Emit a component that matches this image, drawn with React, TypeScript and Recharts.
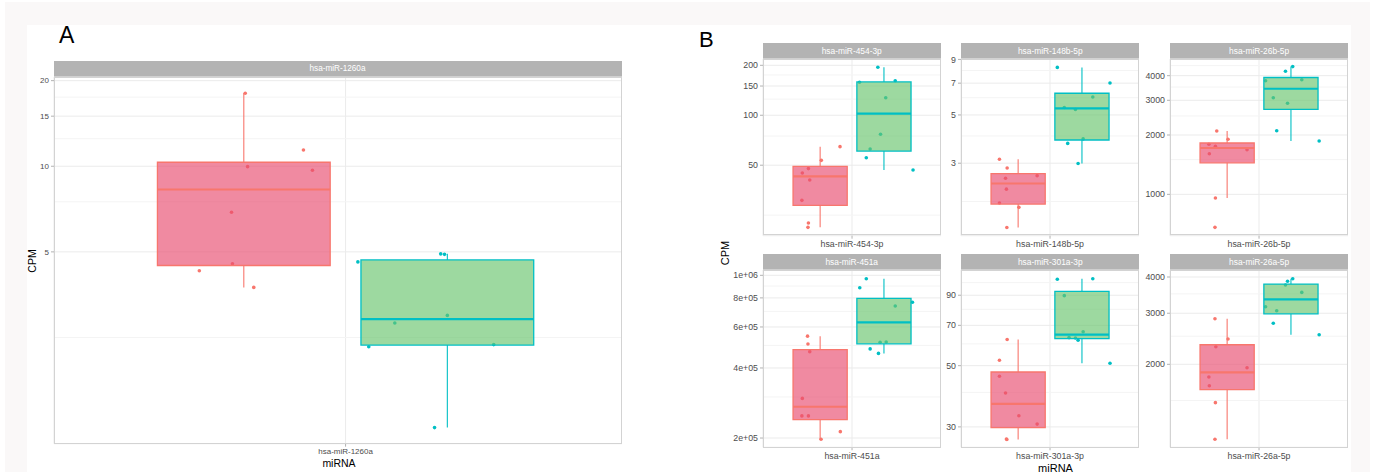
import React from 'react';
import { ComposedChart, XAxis, YAxis, CartesianGrid, Scatter, ReferenceArea, ReferenceLine } from 'recharts';

// ---------------- DATA (CPM values) ----------------
// Panel A: hsa-miR-1260a
const m1260aRed = [18.06, 11.41, 9.97, 9.68, 6.89, 4.54, 4.29, 3.75];
const m1260aRedJit = [0.788, 0.911, 0.793, 0.93, 0.759, 0.761, 0.691, 0.806];
const m1260aTeal = [4.92, 4.9, 4.61, 2.99, 2.81, 2.36, 2.32, 1.205];
const m1260aTealJit = [1.201, 1.209, 1.026, 1.215, 1.104, 1.313, 1.049, 1.188];
const m1260aTicks = [5, 10, 15, 20];
const m1260aMinor = [2.5, 7.5, 12.5, 17.5];
const m1260aDomain = [1.058, 20.6];

// Panel B facets
const m454Red = [64.7, 53.5, 47.7, 44.9, 40.7, 30.7, 22.4, 21.1];
const m454RedJit = [0.919, 0.793, 0.706, 0.665, 0.715, 0.662, 0.706, 0.703];
const m454Teal = [194.5, 158, 161.5, 127.6, 76.8, 62.6, 55.5, 46.8];
const m454TealJit = [1.174, 1.05, 1.291, 1.227, 1.192, 1.122, 1.096, 1.411];
const m454Ticks = [50, 100, 150, 200];
const m454Minor = [25, 75, 125, 175];
const m454Domain = [18.8, 218.3];

const m148Red = [3.13, 2.85, 2.63, 2.56, 2.28, 1.97, 1.88, 1.52];
const m148RedJit = [0.659, 0.711, 0.913, 0.7, 0.706, 0.659, 0.79, 0.709];
const m148Teal = [8.27, 7.01, 6.05, 5.41, 5.3, 3.88, 3.7, 2.99];
const m148TealJit = [1.049, 1.404, 1.288, 1.096, 1.171, 1.223, 1.119, 1.189];
const m148Ticks = [3, 5, 7, 9];
const m148Minor = [2, 4, 6, 8];
const m148Domain = [1.393, 9.04];

const m26bRed = [2096, 1903, 1795, 1752, 1684, 1607, 958, 680];
const m26bRedJit = [0.715, 0.791, 0.662, 0.706, 0.919, 0.665, 0.706, 0.703];
const m26bTeal = [4446, 4210, 3772, 3816, 3093, 2897, 2103, 1865];
const m26bTealJit = [1.227, 1.178, 1.044, 1.288, 1.096, 1.192, 1.119, 1.405];
const m26bTicks = [1000, 2000, 3000, 4000];
const m26bMinor = [1500, 2500, 3500, 4500];
const m26bDomain = [617, 4860];

const m451Red = [548000, 507000, 470000, 296000, 249000, 249000, 213000, 197500];
const m451RedJit = [0.7, 0.703, 0.715, 0.665, 0.662, 0.706, 0.921, 0.791];
const m451Teal = [967000, 884000, 766000, 738000, 517000, 516000, 483000, 462000];
const m451TealJit = [1.096, 1.052, 1.407, 1.291, 1.23, 1.189, 1.122, 1.178];
const m451Ticks = [200000, 400000, 600000, 800000, 1000000];
const m451TickLabels = ['2e+05', '4e+05', '6e+05', '8e+05', '1e+06'];
const m451Minor = [300000, 500000, 700000, 900000];
const m451Domain = [182500, 1054000];

const m301Red = [62.2, 52.3, 45.8, 39.8, 32.9, 30.7, 27.1, 27.0];
const m301RedJit = [0.711, 0.659, 0.659, 0.7, 0.79, 0.913, 0.706, 0.709];
const m301Teal = [102.8, 103.3, 89.7, 66.4, 63.2, 63.0, 61.8, 51.0];
const m301TealJit = [1.049, 1.288, 1.096, 1.223, 1.128, 1.171, 1.189, 1.404];
const m301Ticks = [30, 50, 70, 90];
const m301Minor = [40, 60, 80, 100];
const m301Domain = [25.3, 111.1];

const m26aRed = [2872, 2445, 2300, 1947, 1808, 1688, 1475, 1103];
const m26aRedJit = [0.703, 0.791, 0.709, 0.919, 0.662, 0.665, 0.706, 0.703];
const m26aTeal = [3945, 3866, 3753, 3540, 3160, 3060, 2770, 2530];
const m26aTealJit = [1.227, 1.192, 1.178, 1.288, 1.044, 1.119, 1.096, 1.405];
const m26aTicks = [2000, 3000, 4000];
const m26aMinor = [1500, 2500, 3500];
const m26aDomain = [1035, 4229];

// ---------------- STYLE ----------------
const FONT = '"Liberation Sans", Arial, Helvetica, sans-serif';
const RED = '#F8766D';
const TEAL = '#00BFC4';
const RED_FILL = '#E84C6E';
const TEAL_FILL = '#68C46D';
const FILL_OPACITY = 0.65;
const CENTERS = [0.785, 1.215];
const HALF = 0.1825;
const TOP_PAD = 8;

function boxStats(vals: number[]) {
  const s = [...vals].sort((a, b) => a - b);
  const q = (p: number) => {
    const h = (s.length - 1) * p;
    const lo = Math.floor(h);
    const hi = Math.min(lo + 1, s.length - 1);
    return s[lo] + (h - lo) * (s[hi] - s[lo]);
  };
  const q1 = q(0.25), med = q(0.5), q3 = q(0.75);
  const iqr = q3 - q1;
  const lower = Math.min(...s.filter((v) => v >= q1 - 1.5 * iqr));
  const upper = Math.max(...s.filter((v) => v <= q3 + 1.5 * iqr));
  return { q1, med, q3, lower, upper };
}

type FacetProps = {
  name: string;
  red: number[]; redX: number[]; teal: number[]; tealX: number[];
  domain: number[]; ticks: number[]; tickLabels?: string[]; minor: number[];
  left: number; stripTop: number; stripH: number; w: number; h: number; axisW: number;
  tickFont: number; stripFont: number; dotR: number; xDomain?: number[];
};

function Facet(p: FacetProps) {
  const plotTop = p.stripTop + p.stripH;
  const xAxisH = 24;
  const redPts = p.red.map((y, i) => ({ x: p.redX[i], y }));
  const tealPts = p.teal.map((y, i) => ({ x: p.tealX[i], y }));
  const groups = [
    { vals: p.red, c: CENTERS[0], stroke: RED, fill: RED_FILL },
    { vals: p.teal, c: CENTERS[1], stroke: TEAL, fill: TEAL_FILL },
  ];
  const dot = (color: string) => (props: any) => (
    <circle cx={props.cx} cy={props.cy} r={p.dotR} fill={color} />
  );
  const fmt = (v: number) => {
    const i = p.ticks.indexOf(v);
    return p.tickLabels && i >= 0 ? p.tickLabels[i] : String(v);
  };
  const cw = p.w + p.axisW;
  const ch = p.h + xAxisH + TOP_PAD;
  return (
    <>
      <div
        style={{
          position: 'absolute', left: p.left, top: p.stripTop, width: p.w, height: p.stripH,
          background: '#B3B3B3', color: '#fff', fontFamily: FONT, fontSize: p.stripFont,
          lineHeight: `${p.stripH}px`, textAlign: 'center', whiteSpace: 'nowrap',
        }}
      >
        {p.name}
      </div>
      <div style={{ position: 'absolute', left: p.left - p.axisW, top: plotTop - TOP_PAD, width: cw, height: ch }}>
        <ComposedChart width={cw} height={ch} margin={{ top: TOP_PAD, right: 0, bottom: 0, left: 0 }} style={{ overflow: 'visible' }}>
          <CartesianGrid stroke="#EBEBEB" strokeWidth={1} />
          {p.minor.map((v) => (
            <ReferenceLine key={'m' + v} y={v} stroke="#F4F4F4" strokeWidth={1} zIndex={-90} />
          ))}
          <XAxis
            type="number" dataKey="x" domain={p.xDomain || [0.4, 1.6]} ticks={[1]} allowDataOverflow interval={0}
            tickFormatter={() => p.name} axisLine={false} tickSize={3} tickMargin={2}
            tickLine={{ stroke: '#B3B3B3' }} height={xAxisH}
            tick={{ fontSize: p.tickFont, fill: '#4D4D4D', fontFamily: FONT }}
          />
          <YAxis
            type="number" dataKey="y" scale="log" domain={p.domain} ticks={p.ticks} allowDataOverflow interval={0}
            tickFormatter={fmt} axisLine={false} tickSize={3} tickMargin={2} width={p.axisW}
            tickLine={{ stroke: '#B3B3B3' }}
            tick={{ fontSize: p.tickFont, fill: '#4D4D4D', fontFamily: FONT }}
          />
          <Scatter data={redPts} shape={dot(RED)} isAnimationActive={false} />
          <Scatter data={tealPts} shape={dot(TEAL)} isAnimationActive={false} />
          {groups.map((g, gi) => {
            const st = boxStats(g.vals);
            return [
              <ReferenceLine key={`wu${gi}`} segment={[{ x: g.c, y: st.q3 }, { x: g.c, y: st.upper }]} stroke={g.stroke} strokeWidth={1.1} zIndex={650} />,
              <ReferenceLine key={`wl${gi}`} segment={[{ x: g.c, y: st.q1 }, { x: g.c, y: st.lower }]} stroke={g.stroke} strokeWidth={1.1} zIndex={650} />,
              <ReferenceArea key={`b${gi}`} x1={g.c - HALF} x2={g.c + HALF} y1={st.q1} y2={st.q3}
                fill={g.fill} fillOpacity={FILL_OPACITY} stroke={g.stroke} strokeWidth={1.3} strokeOpacity={1} zIndex={660} />,
              <ReferenceLine key={`md${gi}`} segment={[{ x: g.c - HALF, y: st.med }, { x: g.c + HALF, y: st.med }]} stroke={g.stroke} strokeWidth={2.2} zIndex={670} />,
            ];
          })}
        </ComposedChart>
      </div>
      <div
        style={{
          position: 'absolute', left: p.left, top: plotTop, width: p.w, height: p.h,
          border: '1px solid #D3D3D3', boxSizing: 'border-box', pointerEvents: 'none',
        }}
      />
    </>
  );
}

const colLeft = [762.7, 961.2, 1170.1];
const colW = 178.1;
const rowStrip = [42.5, 254];
const rowH = [176.7, 177.3];

export default function App() {
  const bCommon = { stripH: 16.3, w: colW, axisW: 36, tickFont: 8.8, stripFont: 8.4, dotR: 1.8 };
  const facetsB = [
    { name: 'hsa-miR-454-3p', red: m454Red, redX: m454RedJit, teal: m454Teal, tealX: m454TealJit, domain: m454Domain, ticks: m454Ticks, minor: m454Minor },
    { name: 'hsa-miR-148b-5p', red: m148Red, redX: m148RedJit, teal: m148Teal, tealX: m148TealJit, domain: m148Domain, ticks: m148Ticks, minor: m148Minor },
    { name: 'hsa-miR-26b-5p', red: m26bRed, redX: m26bRedJit, teal: m26bTeal, tealX: m26bTealJit, domain: m26bDomain, ticks: m26bTicks, minor: m26bMinor },
    { name: 'hsa-miR-451a', red: m451Red, redX: m451RedJit, teal: m451Teal, tealX: m451TealJit, domain: m451Domain, ticks: m451Ticks, tickLabels: m451TickLabels, minor: m451Minor },
    { name: 'hsa-miR-301a-3p', red: m301Red, redX: m301RedJit, teal: m301Teal, tealX: m301TealJit, domain: m301Domain, ticks: m301Ticks, minor: m301Minor },
    { name: 'hsa-miR-26a-5p', red: m26aRed, redX: m26aRedJit, teal: m26aTeal, tealX: m26aTealJit, domain: m26aDomain, ticks: m26aTicks, minor: m26aMinor },
  ];
  return (
    <div style={{ position: 'absolute', left: 0, top: 0, width: 1375, height: 472, background: '#FFFFFF', overflow: 'hidden', fontFamily: FONT }}>
      <div style={{ position: 'absolute', left: 5, top: 2, width: 1365, height: 470, background: '#FAF8F8' }} />
      <div style={{ position: 'absolute', left: 27, top: 25, width: 1324, height: 447, background: '#FFFFFF' }} />

      <div style={{ position: 'absolute', left: 59, top: 21, fontSize: 23, lineHeight: '28px', color: '#000' }}>A</div>
      <div style={{ position: 'absolute', left: 699, top: 26, fontSize: 22, lineHeight: '28px', color: '#000' }}>B</div>

      <Facet
        name="hsa-miR-1260a" red={m1260aRed} redX={m1260aRedJit} teal={m1260aTeal} tealX={m1260aTealJit}
        domain={m1260aDomain} ticks={m1260aTicks} minor={m1260aMinor} xDomain={[0.384, 1.584]}
        left={53.5} stripTop={60.7} stripH={16.3} w={568} h={366.7} axisW={30} tickFont={8} stripFont={8.2} dotR={1.8}
      />
      <div style={{ position: 'absolute', left: 32, top: 261, transform: 'translate(-50%,-50%) rotate(-90deg)', fontSize: 10.5, color: '#000', whiteSpace: 'nowrap' }}>CPM</div>
      <div style={{ position: 'absolute', left: 339, top: 463, transform: 'translate(-50%,-50%)', fontSize: 10.5, color: '#000', whiteSpace: 'nowrap' }}>miRNA</div>

      {facetsB.map((f, i) => (
        <Facet key={f.name} {...f} {...bCommon} left={colLeft[i % 3]} stripTop={rowStrip[Math.floor(i / 3)]} h={rowH[Math.floor(i / 3)]} />
      ))}
      <div style={{ position: 'absolute', left: 725, top: 253, transform: 'translate(-50%,-50%) rotate(-90deg)', fontSize: 11, color: '#000', whiteSpace: 'nowrap' }}>CPM</div>
      <div style={{ position: 'absolute', left: 1055.5, top: 467.5, transform: 'translate(-50%,-50%)', fontSize: 11, color: '#000', whiteSpace: 'nowrap' }}>miRNA</div>
    </div>
  );
}
